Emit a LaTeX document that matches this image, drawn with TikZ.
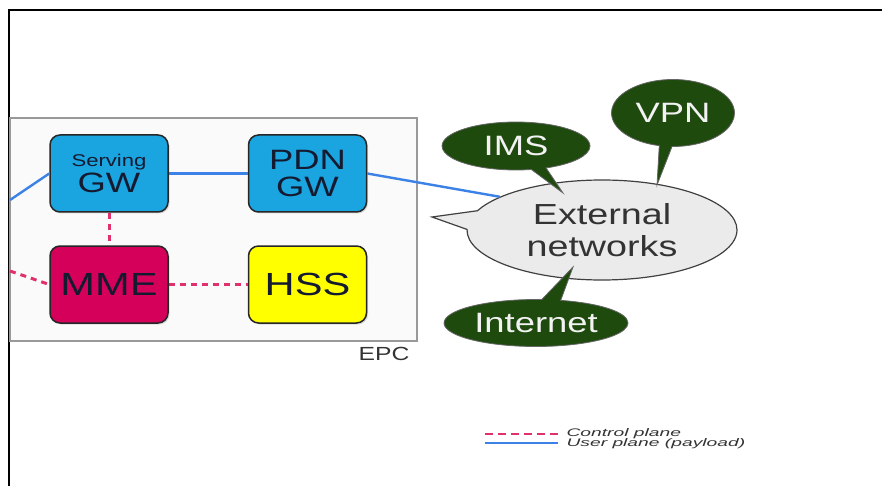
\documentclass[tikz,border=0pt]{standalone}
\usepackage{fontspec}
\usepackage{xcolor}
\usepackage{tikz}
\usetikzlibrary{shapes.callouts,shadows}

\newfontfamily\widesf[FakeStretch=1.3]{Liberation Sans}
\newfontfamily\legendsf[FakeStretch=1.75]{Liberation Sans}

\definecolor{gwblue}{HTML}{1AA4E0}
\definecolor{mmered}{HTML}{D4005A}
\definecolor{hssyellow}{HTML}{FFFF00}
\definecolor{netgreen}{HTML}{1E4A0E}
\definecolor{netgray}{HTML}{EBEBEB}
\definecolor{userblue}{HTML}{3C82E6}
\definecolor{ctrlpink}{HTML}{E0306E}
\definecolor{boxtext}{HTML}{141A30}

\begin{document}
\begin{tikzpicture}[
  x=1pt, y=-1pt,
  epcnode/.style={draw=black!85, line width=1.5pt, rounded corners=10pt, minimum width=118pt, minimum height=77pt,
    align=center, text=boxtext, font=\widesf\fontsize{28}{27}\selectfont,
    drop shadow={opacity=0.25, shadow xshift=1.5pt, shadow yshift=-1.5pt}},
  extnet/.style={ellipse callout, draw=black!75, line width=1.2pt, fill=netgray, minimum width=270pt, minimum height=100pt,
    callout pointer arc=22, align=center, text=black!80, font=\widesf\fontsize{29}{32}\selectfont},
  netbubble/.style={ellipse callout, draw=black!60, line width=0.8pt, fill=netgreen, callout pointer arc=12,
    text=white!95!black, font=\widesf\fontsize{28}{28}\selectfont},
  userline/.style={userblue, line width=2.4pt},
  ctrlline/.style={ctrlpink, line width=3pt, dash pattern=on 6pt off 5pt},
  legendtext/.style={anchor=west, text=black!80, font=\legendsf\itshape\fontsize{11}{11}\selectfont},
]

% frame and EPC area
\useasboundingbox (0,0) rectangle (882,486);
\draw[line width=1.5pt] (9,486) -- (9,10) -- (882,10);
\draw[black!40, line width=1.2pt, fill=black!2] (10,118) rectangle (417,341);
\node[text=black!80, font=\widesf\fontsize{19}{19}\selectfont] (epc) at (384,354) {EPC};

% EPC nodes
\node[epcnode, fill=gwblue] (sgw) at (109,173.5) {{\fontsize{17}{17}\selectfont Serving}\\[-1pt]GW};
\node[epcnode, fill=gwblue] (pgw) at (307.5,173.5) {PDN\\GW};
\node[epcnode, fill=mmered, font=\widesf\fontsize{32}{32}\selectfont] (mme) at (109,284.5) {MME};
\node[epcnode, fill=hssyellow, font=\widesf\fontsize{32}{32}\selectfont] (hss) at (307.5,284.5) {HSS};

\coordinate (ueleft) at (10,200);
\coordinate (cpleft) at (10,271);
\coordinate (exttip) at (432,217);
\coordinate (imstip) at (563,193);
\coordinate (vpntip) at (657,185);
\coordinate (inettip) at (573,267);

% external networks
\node[extnet, callout absolute pointer=(exttip)] (ext) at (602,230) {External\\networks};
\draw[userline] (pgw.east) -- (ext.162);
\node[netbubble, minimum width=148pt, minimum height=48pt, callout absolute pointer=(imstip)] (ims) at (516,146) {IMS};
\node[netbubble, minimum width=123pt, minimum height=67pt, callout absolute pointer=(vpntip)] (vpn) at (673,113) {VPN};
\node[netbubble, minimum width=167pt, minimum height=47pt, callout absolute pointer=(inettip)] (inet) at (536,323) {Internet};

% user plane
\draw[userline] (ueleft) -- (sgw.west);
\draw[userline] (sgw) -- (pgw);

% control plane
\draw[ctrlline] (cpleft) -- (mme.west);
\draw[ctrlline] (sgw) -- (mme);
\draw[ctrlline] (mme) -- (hss);

% legend
\node[legendtext] (ctrllabel) at (563,434) {Control plane};
\node[legendtext] (userlabel) at (563,444) {User plane (payload)};
\coordinate (ctrlstart) at (485,434);
\coordinate (userstart) at (485,443);
\draw[ctrlline, line width=2.5pt, dash pattern=on 8pt off 5pt] (ctrlstart) -- ([xshift=-5pt]ctrllabel.west);
\draw[userline, line width=2.5pt] (userstart) -- ([xshift=-5pt,yshift=1pt]userlabel.west);

\end{tikzpicture}
\end{document}
